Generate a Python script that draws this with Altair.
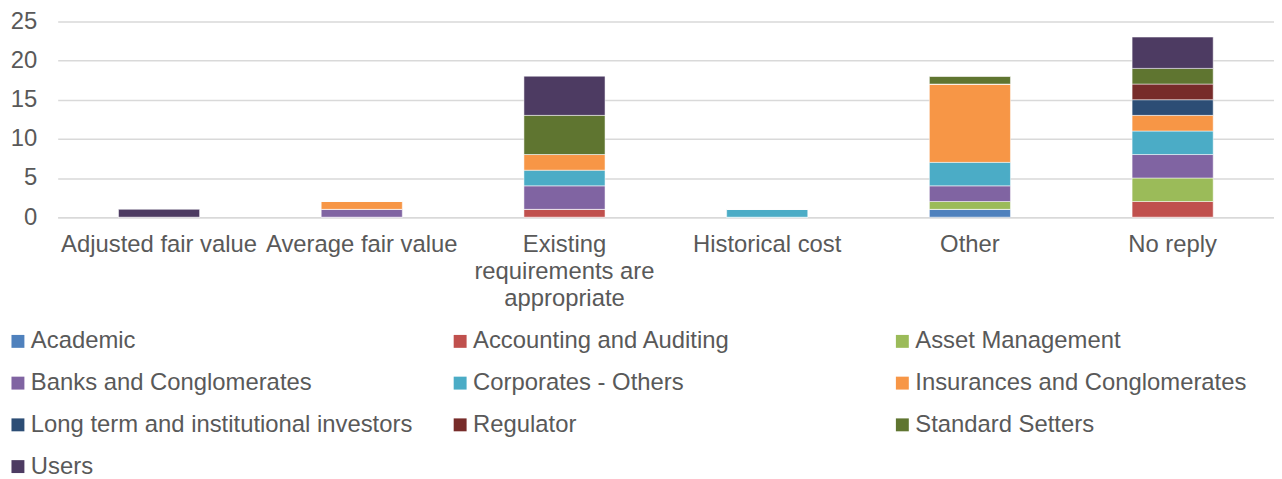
import altair as alt
import pandas as pd

categories = ["Adjusted fair value", "Average fair value", "Existing requirements are appropriate",
              "Historical cost", "Other", "No reply"]
groups = ["Academic", "Accounting and Auditing", "Asset Management", "Banks and Conglomerates",
          "Corporates - Others", "Insurances and Conglomerates", "Long term and institutional investors",
          "Regulator", "Standard Setters", "Users"]
colors = ["#4F81BD", "#C0504D", "#9BBB59", "#8064A2", "#4BACC6", "#F79646",
          "#2C4D75", "#772C2A", "#5F7530", "#4D3B62"]

# values per group, in category order
academic = [0, 0, 0, 0, 1, 0]
accounting = [0, 0, 1, 0, 0, 2]
asset_mgmt = [0, 0, 0, 0, 1, 3]
banks = [0, 1, 3, 0, 2, 3]
corporates = [0, 0, 2, 1, 3, 3]
insurances = [0, 1, 2, 0, 10, 2]
long_term = [0, 0, 0, 0, 0, 2]
regulator = [0, 0, 0, 0, 0, 2]
standard_setters = [0, 0, 5, 0, 1, 2]
users = [1, 0, 5, 0, 0, 4]

series = [academic, accounting, asset_mgmt, banks, corporates, insurances,
          long_term, regulator, standard_setters, users]

rows = []
for gi, (g, vals) in enumerate(zip(groups, series)):
    for c, v in zip(categories, vals):
        rows.append({"category": c, "group": g, "value": v, "order": gi})
df = pd.DataFrame(rows)

label_expr = ("datum.label == 'Existing requirements are appropriate' ? "
              "['Existing', 'requirements are', 'appropriate'] : datum.label")

FONT = "Liberation Sans"
GREY = "#595959"

chart = alt.Chart(df).mark_bar(stroke="white", strokeWidth=0.5).encode(
    x=alt.X("category:N", sort=categories,
            scale=alt.Scale(paddingInner=0.6, paddingOuter=0.3),
            axis=alt.Axis(title=None, labelAngle=0, labelFontSize=24, labelColor=GREY,
                          labelFont=FONT, labelLimit=400, ticks=False,
                          domainColor="#D9D9D9", domainWidth=1.5, labelPadding=16,
                          labelExpr=label_expr, labelLineHeight=27, labelBaseline="top")),
    y=alt.Y("value:Q", stack="zero", scale=alt.Scale(domain=[0, 25]),
            axis=alt.Axis(title=None, values=[0, 5, 10, 15, 20, 25], labelFontSize=24,
                          labelColor=GREY, labelFont=FONT, ticks=False,
                          domain=False, gridColor="#D9D9D9", gridWidth=1.5, labelPadding=21)),
    color=alt.Color("group:N", sort=groups,
                    scale=alt.Scale(domain=groups, range=colors),
                    legend=alt.Legend(title=None, orient="none", legendX=-52, legendY=310,
                                      columns=3, gridAlign="all", columnPadding=35,
                                      rowPadding=18, symbolType="square", symbolSize=169,
                                      symbolStrokeWidth=0, labelFontSize=24,
                                      labelFont=FONT, labelColor=GREY,
                                      labelOffset=1, labelLimit=600, direction="horizontal")),
    order=alt.Order("order:Q", sort="ascending"),
).properties(
    width=1224, height=197,
    autosize=alt.AutoSizeParams(type="none"),
    padding={"left": 50, "top": 12, "right": 0, "bottom": 262},
).configure_view(stroke=None)

chart.save("out.html", embed_options={"renderer": "svg", "actions": False})
